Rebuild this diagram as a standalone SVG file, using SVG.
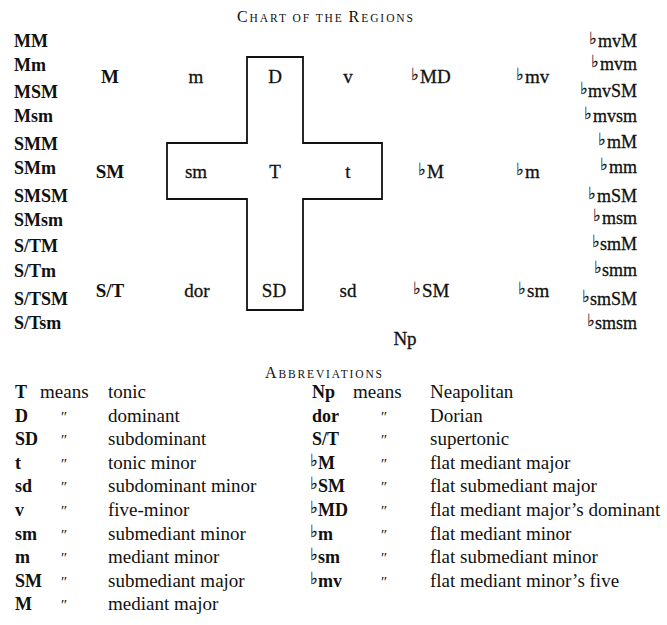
<svg xmlns="http://www.w3.org/2000/svg" width="667" height="625" viewBox="0 0 667 625">
<style>
text{font-family:"Liberation Serif","Times New Roman",serif;fill:#111}
.hd{font-size:16px}
.hd .sc{font-size:11.5px}
.cb{font-size:18px;font-weight:bold}
.cr{font-size:19px;stroke:#111;stroke-width:0.3}
.rc{font-size:18px;stroke:#111;stroke-width:0.3;text-anchor:end}
.mid{text-anchor:middle}
.fl{font-family:"DejaVu Serif","DejaVu Sans",serif;font-size:17px;fill:#111;stroke:#111;stroke-width:0.2;font-weight:normal}
.k{font-size:18px;font-weight:bold}
.d{font-size:19px}
.dt{font-size:15px;font-style:italic}
.cross{fill:none;stroke:#111;stroke-width:1.8}
</style>
<rect width="667" height="625" fill="#fff"/>
<text class="hd" x="237" y="22" textLength="176" lengthAdjust="spacing">C<tspan class="sc">HART OF THE </tspan>R<tspan class="sc">EGIONS</tspan></text>

<g id="cross"><path class="cross" d="M247,57 H303 V143 H382 V199 H303 V310 H247 V199 H167 V143 H247 Z"/></g>
<g id="connectors"></g>

<g id="left-column">
<text class="cb" x="14" y="47">MM</text>
<text class="cb" x="14" y="71">Mm</text>
<text class="cb" x="14" y="98">MSM</text>
<text class="cb" x="14" y="122">Msm</text>
<text class="cb" x="14" y="150">SMM</text>
<text class="cb" x="14" y="174">SMm</text>
<text class="cb" x="14" y="202">SMSM</text>
<text class="cb" x="14" y="226">SMsm</text>
<text class="cb" x="14" y="252">S/TM</text>
<text class="cb" x="14" y="277">S/Tm</text>
<text class="cb" x="14" y="305">S/TSM</text>
<text class="cb" x="14" y="329">S/Tsm</text>
</g>

<g id="right-column">
<text class="rc" x="637" y="47"><tspan class="fl" dy="-3">♭︎</tspan><tspan dy="3" dx="1">mvM</tspan></text>
<text class="rc" x="637" y="70"><tspan class="fl" dy="-3">♭︎</tspan><tspan dy="3" dx="1">mvm</tspan></text>
<text class="rc" x="637" y="97"><tspan class="fl" dy="-3">♭︎</tspan><tspan dy="3" dx="0">mvSM</tspan></text>
<text class="rc" x="637" y="122"><tspan class="fl" dy="-3">♭︎</tspan><tspan dy="3" dx="1">mvsm</tspan></text>
<text class="rc" x="637" y="148"><tspan class="fl" dy="-3">♭︎</tspan><tspan dy="3" dx="1">mM</tspan></text>
<text class="rc" x="637" y="173"><tspan class="fl" dy="-3">♭︎</tspan><tspan dy="3" dx="1">mm</tspan></text>
<text class="rc" x="637" y="202"><tspan class="fl" dy="-3">♭︎</tspan><tspan dy="3" dx="1">mSM</tspan></text>
<text class="rc" x="637" y="224"><tspan class="fl" dy="-3">♭︎</tspan><tspan dy="3" dx="1">msm</tspan></text>
<text class="rc" x="637" y="250"><tspan class="fl" dy="-3">♭︎</tspan><tspan dy="3" dx="0">smM</tspan></text>
<text class="rc" x="637" y="276"><tspan class="fl" dy="-3">♭︎</tspan><tspan dy="3" dx="0">smm</tspan></text>
<text class="rc" x="637" y="305"><tspan class="fl" dy="-3">♭︎</tspan><tspan dy="3" dx="0">smSM</tspan></text>
<text class="rc" x="637" y="329"><tspan class="fl" dy="-3">♭︎</tspan><tspan dy="3" dx="0">smsm</tspan></text>
</g>

<g id="node-M"><text class="cb mid" x="110" y="83" style="font-size:19px">M</text></g>
<g id="node-m"><text class="cr mid" x="196" y="83">m</text></g>
<g id="node-D"><text class="cr mid" x="275" y="83">D</text></g>
<g id="node-v"><text class="cr mid" x="348" y="83">v</text></g>
<g id="node-bMD"><text class="cr" x="411" y="83"><tspan class="fl" dy="-3">♭︎</tspan><tspan dy="3" dx="1">MD</tspan></text></g>
<g id="node-bmv"><text class="cr" x="516" y="83"><tspan class="fl" dy="-3">♭︎</tspan><tspan dy="3" dx="1">mv</tspan></text></g>

<g id="node-SM"><text class="cb mid" x="110" y="178" style="font-size:19px">SM</text></g>
<g id="node-sm"><text class="cr mid" x="196" y="178">sm</text></g>
<g id="node-T"><text class="cr mid" x="275" y="178">T</text></g>
<g id="node-t"><text class="cr mid" x="348" y="178">t</text></g>
<g id="node-bM"><text class="cr" x="418" y="178"><tspan class="fl" dy="-3">♭︎</tspan><tspan dy="3" dx="1">M</tspan></text></g>
<g id="node-bm"><text class="cr" x="516" y="178"><tspan class="fl" dy="-3">♭︎</tspan><tspan dy="3" dx="1">m</tspan></text></g>

<g id="node-ST"><text class="cb mid" x="110" y="297" style="font-size:19px">S/T</text></g>
<g id="node-dor"><text class="cr mid" x="197" y="297">dor</text></g>
<g id="node-SD"><text class="cr mid" x="274" y="297">SD</text></g>
<g id="node-sd"><text class="cr mid" x="348" y="297">sd</text></g>
<g id="node-bSM"><text class="cr" x="413" y="297"><tspan class="fl" dy="-3">♭︎</tspan><tspan dy="3" dx="1">SM</tspan></text></g>
<g id="node-bsm"><text class="cr" x="518" y="297"><tspan class="fl" dy="-3">♭︎</tspan><tspan dy="3" dx="1">sm</tspan></text></g>

<g id="node-Np"><text class="cr mid" x="405" y="345">Np</text></g>

<text class="hd" x="265" y="378" textLength="117" lengthAdjust="spacing">A<tspan class="sc">BBREVIATIONS</tspan></text>

<g id="abbreviations-left">
<text class="k" x="15" y="398">T</text><text class="d" x="40" y="398">means</text><text class="d" x="108" y="398">tonic</text>
<text class="k" x="15" y="421.6">D</text><text class="dt" x="60" y="421.6">″</text><text class="d" x="108" y="421.6">dominant</text>
<text class="k" x="15" y="445.2">SD</text><text class="dt" x="60" y="445.2">″</text><text class="d" x="108" y="445.2">subdominant</text>
<text class="k" x="15" y="468.8">t</text><text class="dt" x="60" y="468.8">″</text><text class="d" x="108" y="468.8">tonic minor</text>
<text class="k" x="15" y="492.4">sd</text><text class="dt" x="60" y="492.4">″</text><text class="d" x="108" y="492.4">subdominant minor</text>
<text class="k" x="15" y="516">v</text><text class="dt" x="60" y="516">″</text><text class="d" x="108" y="516">five-minor</text>
<text class="k" x="15" y="539.6">sm</text><text class="dt" x="60" y="539.6">″</text><text class="d" x="108" y="539.6">submediant minor</text>
<text class="k" x="15" y="563.2">m</text><text class="dt" x="60" y="563.2">″</text><text class="d" x="108" y="563.2">mediant minor</text>
<text class="k" x="15" y="586.8">SM</text><text class="dt" x="60" y="586.8">″</text><text class="d" x="108" y="586.8">submediant major</text>
<text class="k" x="15" y="610.4">M</text><text class="dt" x="60" y="610.4">″</text><text class="d" x="108" y="610.4">mediant major</text>
</g>

<g id="abbreviations-right">
<text class="k" x="312" y="398">Np</text><text class="d" x="353" y="398">means</text><text class="d" x="430" y="398">Neapolitan</text>
<text class="k" x="312" y="421.6">dor</text><text class="dt" x="380" y="421.6">″</text><text class="d" x="430" y="421.6">Dorian</text>
<text class="k" x="312" y="445.2">S/T</text><text class="dt" x="380" y="445.2">″</text><text class="d" x="430" y="445.2">supertonic</text>
<text class="k" x="310" y="468.8"><tspan class="fl" dy="-3">♭︎</tspan><tspan dy="3">M</tspan></text><text class="dt" x="380" y="468.8">″</text><text class="d" x="430" y="468.8">flat mediant major</text>
<text class="k" x="310" y="492.4"><tspan class="fl" dy="-3">♭︎</tspan><tspan dy="3">SM</tspan></text><text class="dt" x="380" y="492.4">″</text><text class="d" x="430" y="492.4">flat submediant major</text>
<text class="k" x="310" y="516"><tspan class="fl" dy="-3">♭︎</tspan><tspan dy="3">MD</tspan></text><text class="dt" x="380" y="516">″</text><text class="d" x="430" y="516">flat mediant major’s dominant</text>
<text class="k" x="310" y="539.6"><tspan class="fl" dy="-3">♭︎</tspan><tspan dy="3">m</tspan></text><text class="dt" x="380" y="539.6">″</text><text class="d" x="430" y="539.6">flat mediant minor</text>
<text class="k" x="310" y="563.2"><tspan class="fl" dy="-3">♭︎</tspan><tspan dy="3">sm</tspan></text><text class="dt" x="380" y="563.2">″</text><text class="d" x="430" y="563.2">flat submediant minor</text>
<text class="k" x="310" y="586.8"><tspan class="fl" dy="-3">♭︎</tspan><tspan dy="3">mv</tspan></text><text class="dt" x="380" y="586.8">″</text><text class="d" x="430" y="586.8">flat mediant minor’s five</text>
</g>
</svg>
